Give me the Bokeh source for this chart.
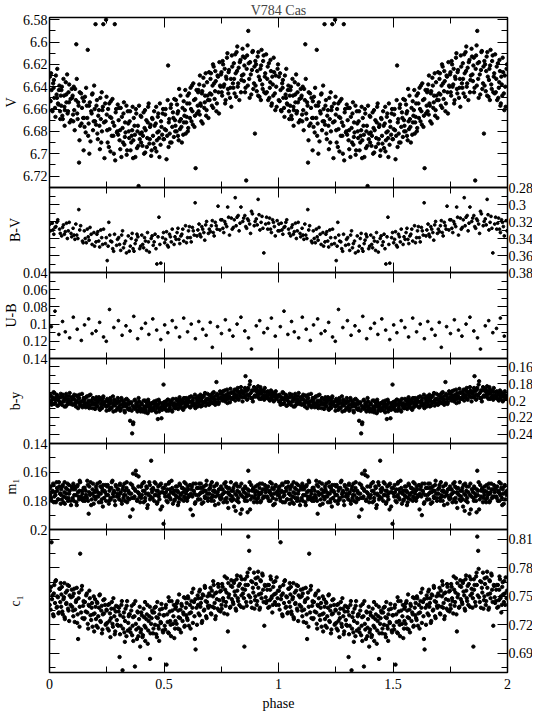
from bokeh.plotting import figure
from bokeh.layouts import column
from bokeh.models import Range1d, LinearAxis, FixedTicker
from bokeh.embed import file_html
from bokeh.resources import INLINE

# ---------------- data (phase-folded, one cycle; plotted twice) ----------------
# uvby observations, set 1
phase = [
    0.002, 0.005, 0.009, 0.013, 0.016, 0.021, 0.024, 0.028, 0.033, 0.037, 0.041, 0.046,
    0.051, 0.054, 0.058, 0.063, 0.067, 0.071, 0.074, 0.079, 0.083, 0.088, 0.092, 0.097,
    0.101, 0.104, 0.108, 0.112, 0.117, 0.121, 0.125, 0.129, 0.134, 0.138, 0.142, 0.147,
    0.151, 0.155, 0.158, 0.163, 0.167, 0.171, 0.176, 0.179, 0.184, 0.188, 0.193, 0.197,
    0.201, 0.205, 0.209, 0.213, 0.218, 0.222, 0.226, 0.231, 0.235, 0.238, 0.243, 0.247,
    0.252, 0.256, 0.259, 0.264, 0.268, 0.272, 0.277, 0.281, 0.285, 0.289, 0.294, 0.298,
    0.302, 0.306, 0.311, 0.314, 0.319, 0.323, 0.327, 0.332, 0.336, 0.339, 0.344, 0.348,
    0.352, 0.357, 0.361, 0.365, 0.368, 0.373, 0.377, 0.382, 0.386, 0.389, 0.394, 0.398,
    0.403, 0.406, 0.411, 0.415, 0.418, 0.423, 0.427, 0.431, 0.436, 0.439, 0.444, 0.448,
    0.452, 0.457, 0.461, 0.464, 0.469, 0.473, 0.477, 0.482, 0.485, 0.489, 0.494, 0.498,
    0.503, 0.507, 0.511, 0.514, 0.518, 0.523, 0.527, 0.531, 0.536, 0.539, 0.543, 0.548,
    0.552, 0.555, 0.559, 0.564, 0.568, 0.572, 0.576, 0.581, 0.584, 0.589, 0.593, 0.597,
    0.601, 0.606, 0.609, 0.613, 0.618, 0.622, 0.626, 0.631, 0.635, 0.638, 0.642, 0.647,
    0.651, 0.654, 0.659, 0.663, 0.667, 0.672, 0.676, 0.679, 0.684, 0.688, 0.692, 0.697,
    0.701, 0.705, 0.709, 0.712, 0.717, 0.721, 0.726, 0.729, 0.734, 0.738, 0.742, 0.747,
    0.751, 0.754, 0.758, 0.763, 0.767, 0.771, 0.775, 0.779, 0.784, 0.788, 0.792, 0.796,
    0.801, 0.805, 0.808, 0.813, 0.817, 0.822, 0.826, 0.829, 0.834, 0.838, 0.843, 0.847,
    0.851, 0.856, 0.859, 0.863, 0.868, 0.872, 0.876, 0.881, 0.884, 0.888, 0.893, 0.897,
    0.902, 0.905, 0.909, 0.914, 0.917, 0.921, 0.926, 0.929, 0.933, 0.938, 0.942, 0.946,
    0.951, 0.955, 0.958, 0.962, 0.967, 0.971, 0.975, 0.979, 0.984, 0.988, 0.992, 0.996,
]
v_mag = [
    6.631, 6.653, 6.643, 6.662, 6.637, 6.650, 6.659, 6.630, 6.650, 6.655, 6.643, 6.662,
    6.657, 6.640, 6.669, 6.648, 6.661, 6.636, 6.654, 6.664, 6.645, 6.672, 6.651, 6.642,
    6.648, 6.671, 6.661, 6.642, 6.602, 6.664, 6.654, 6.708, 6.675, 6.646, 6.659, 6.668,
    6.668, 6.649, 6.681, 6.657, 6.607, 6.673, 6.654, 6.689, 6.664, 6.646, 6.671, 6.660,
    6.584, 6.657, 6.682, 6.666, 6.675, 6.650, 6.690, 6.661, 6.584, 6.672, 6.655, 6.580,
    6.679, 6.660, 6.694, 6.667, 6.653, 6.684, 6.672, 6.700, 6.584, 6.663, 6.681, 6.656,
    6.670, 6.688, 6.659, 6.703, 6.677, 6.664, 6.692, 6.681, 6.657, 6.697, 6.673, 6.686,
    6.662, 6.690, 6.679, 6.704, 6.668, 6.683, 6.660, 6.695, 6.675, 6.729, 6.687, 6.666,
    6.681, 6.693, 6.663, 6.677, 6.699, 6.670, 6.686, 6.658, 6.691, 6.676, 6.702, 6.668,
    6.684, 6.662, 6.695, 6.673, 6.688, 6.667, 6.680, 6.655, 6.692, 6.676, 6.664, 6.687,
    6.678, 6.660, 6.705, 6.684, 6.621, 6.669, 6.690, 6.656, 6.676, 6.663, 6.685, 6.670,
    6.652, 6.680, 6.664, 6.688, 6.671, 6.648, 6.676, 6.659, 6.683, 6.666, 6.643, 6.672,
    6.655, 6.677, 6.646, 6.668, 6.660, 6.639, 6.674, 6.652, 6.666, 6.713, 6.643, 6.657,
    6.662, 6.638, 6.655, 6.671, 6.644, 6.632, 6.659, 6.648, 6.666, 6.636, 6.652, 6.627,
    6.646, 6.628, 6.657, 6.639, 6.622, 6.651, 6.635, 6.662, 6.630, 6.645, 6.618, 6.640,
    6.627, 6.648, 6.620, 6.638, 6.655, 6.631, 6.614, 6.642, 6.625, 6.650, 6.633, 6.612,
    6.637, 6.619, 6.646, 6.628, 6.609, 6.640, 6.623, 6.652, 6.616, 6.634, 6.606, 6.629,
    6.621, 6.641, 6.724, 6.612, 6.590, 6.633, 6.618, 6.647, 6.625, 6.608, 6.637, 6.682,
    6.620, 6.644, 6.613, 6.631, 6.649, 6.624, 6.607, 6.638, 6.617, 6.645, 6.628, 6.611,
    6.633, 6.652, 6.619, 6.641, 6.626, 6.655, 6.638, 6.614, 6.646, 6.630, 6.658, 6.624,
]
b_y = [
    0.201, 0.193, 0.205, 0.196, 0.198, 0.191, 0.203, 0.199, 0.194, 0.206, 0.197, 0.202,
    0.196, 0.205, 0.193, 0.201, 0.198, 0.207, 0.195, 0.202, 0.199, 0.191, 0.204, 0.197,
    0.205, 0.198, 0.193, 0.204, 0.201, 0.195, 0.209, 0.197, 0.202, 0.206, 0.192, 0.200,
    0.197, 0.203, 0.208, 0.195, 0.204, 0.200, 0.206, 0.193, 0.201, 0.209, 0.198, 0.205,
    0.203, 0.196, 0.206, 0.200, 0.210, 0.198, 0.208, 0.202, 0.195, 0.205, 0.201, 0.207,
    0.198, 0.206, 0.202, 0.210, 0.200, 0.208, 0.195, 0.205, 0.201, 0.212, 0.203, 0.197,
    0.208, 0.201, 0.210, 0.197, 0.205, 0.202, 0.212, 0.199, 0.207, 0.204, 0.200, 0.211,
    0.224, 0.202, 0.239, 0.228, 0.209, 0.199, 0.207, 0.203, 0.211, 0.197, 0.206, 0.213,
    0.204, 0.211, 0.200, 0.209, 0.214, 0.202, 0.207, 0.199, 0.212, 0.205, 0.210, 0.203,
    0.209, 0.201, 0.212, 0.204, 0.208, 0.222, 0.199, 0.210, 0.203, 0.221, 0.207, 0.181,
    0.208, 0.201, 0.212, 0.204, 0.199, 0.210, 0.205, 0.202, 0.213, 0.198, 0.207, 0.209,
    0.198, 0.205, 0.209, 0.201, 0.196, 0.207, 0.204, 0.199, 0.211, 0.202, 0.206, 0.197,
    0.205, 0.198, 0.201, 0.208, 0.195, 0.203, 0.200, 0.206, 0.193, 0.204, 0.197, 0.207,
    0.197, 0.204, 0.193, 0.200, 0.206, 0.195, 0.202, 0.191, 0.199, 0.203, 0.198, 0.205,
    0.200, 0.193, 0.203, 0.196, 0.190, 0.199, 0.202, 0.178, 0.194, 0.204, 0.197, 0.192,
    0.192, 0.199, 0.189, 0.196, 0.201, 0.193, 0.187, 0.198, 0.195, 0.202, 0.191, 0.197,
    0.198, 0.191, 0.187, 0.196, 0.193, 0.185, 0.199, 0.190, 0.195, 0.188, 0.201, 0.192,
    0.196, 0.171, 0.189, 0.199, 0.185, 0.193, 0.177, 0.197, 0.188, 0.201, 0.184, 0.194,
    0.195, 0.186, 0.193, 0.189, 0.198, 0.184, 0.191, 0.196, 0.188, 0.199, 0.190, 0.194,
    0.190, 0.197, 0.193, 0.200, 0.188, 0.196, 0.192, 0.201, 0.194, 0.189, 0.198, 0.195,
]
m_1 = [
    0.176, 0.170, 0.180, 0.173, 0.168, 0.177, 0.174, 0.181, 0.171, 0.179, 0.167, 0.175,
    0.172, 0.179, 0.169, 0.177, 0.182, 0.171, 0.175, 0.168, 0.178, 0.173, 0.180, 0.170,
    0.178, 0.168, 0.176, 0.172, 0.181, 0.170, 0.174, 0.179, 0.167, 0.177, 0.173, 0.180,
    0.171, 0.180, 0.173, 0.178, 0.169, 0.189, 0.176, 0.167, 0.179, 0.172, 0.182, 0.174,
    0.179, 0.172, 0.168, 0.177, 0.175, 0.170, 0.181, 0.173, 0.169, 0.178, 0.174, 0.180,
    0.170, 0.176, 0.182, 0.171, 0.179, 0.167, 0.175, 0.173, 0.180, 0.169, 0.177, 0.172,
    0.177, 0.169, 0.174, 0.180, 0.172, 0.178, 0.168, 0.176, 0.171, 0.181, 0.173, 0.179,
    0.191, 0.175, 0.169, 0.161, 0.178, 0.172, 0.159, 0.180, 0.174, 0.163, 0.177, 0.170,
    0.176, 0.168, 0.181, 0.173, 0.178, 0.170, 0.185, 0.175, 0.167, 0.179, 0.152, 0.174,
    0.171, 0.180, 0.176, 0.168, 0.182, 0.173, 0.177, 0.169, 0.186, 0.174, 0.171, 0.196,
    0.175, 0.169, 0.180, 0.172, 0.177, 0.167, 0.178, 0.174, 0.171, 0.182, 0.173, 0.179,
    0.170, 0.177, 0.173, 0.181, 0.168, 0.176, 0.179, 0.171, 0.174, 0.167, 0.178, 0.175,
    0.180, 0.172, 0.177, 0.169, 0.175, 0.170, 0.190, 0.173, 0.182, 0.168, 0.176, 0.171,
    0.176, 0.168, 0.179, 0.174, 0.171, 0.181, 0.173, 0.178, 0.169, 0.175, 0.180, 0.172,
    0.171, 0.178, 0.167, 0.176, 0.180, 0.173, 0.177, 0.169, 0.174, 0.182, 0.172, 0.179,
    0.178, 0.172, 0.175, 0.168, 0.179, 0.170, 0.181, 0.174, 0.171, 0.176, 0.167, 0.180,
    0.173, 0.179, 0.169, 0.187, 0.176, 0.170, 0.181, 0.174, 0.189, 0.168, 0.177, 0.172,
    0.178, 0.171, 0.175, 0.180, 0.159, 0.173, 0.186, 0.169, 0.177, 0.172, 0.181, 0.174,
    0.173, 0.179, 0.169, 0.176, 0.171, 0.181, 0.174, 0.168, 0.178, 0.172, 0.177, 0.170,
    0.177, 0.170, 0.180, 0.173, 0.175, 0.168, 0.178, 0.172, 0.182, 0.169, 0.174, 0.176,
]
c_1 = [
    0.756, 0.736, 0.807, 0.751, 0.731, 0.762, 0.743, 0.767, 0.739, 0.749, 0.733, 0.758,
    0.739, 0.760, 0.731, 0.749, 0.726, 0.754, 0.743, 0.762, 0.735, 0.751, 0.741, 0.757,
    0.750, 0.729, 0.758, 0.736, 0.746, 0.722, 0.705, 0.754, 0.795, 0.733, 0.761, 0.740,
    0.726, 0.744, 0.734, 0.753, 0.721, 0.741, 0.748, 0.730, 0.738, 0.718, 0.750, 0.732,
    0.739, 0.719, 0.743, 0.729, 0.751, 0.724, 0.735, 0.715, 0.746, 0.732, 0.741, 0.721,
    0.722, 0.741, 0.714, 0.732, 0.727, 0.744, 0.718, 0.737, 0.710, 0.734, 0.725, 0.739,
    0.734, 0.686, 0.719, 0.741, 0.672, 0.728, 0.712, 0.737, 0.708, 0.745, 0.722, 0.731,
    0.716, 0.735, 0.709, 0.728, 0.742, 0.676, 0.721, 0.705, 0.733, 0.717, 0.739, 0.712,
    0.730, 0.707, 0.737, 0.719, 0.703, 0.726, 0.741, 0.714, 0.729, 0.684, 0.721, 0.735,
    0.711, 0.733, 0.720, 0.739, 0.707, 0.727, 0.716, 0.736, 0.723, 0.742, 0.714, 0.730,
    0.719, 0.738, 0.678, 0.731, 0.712, 0.745, 0.724, 0.708, 0.735, 0.721, 0.741, 0.716,
    0.739, 0.721, 0.745, 0.728, 0.715, 0.736, 0.742, 0.724, 0.733, 0.718, 0.748, 0.730,
    0.727, 0.748, 0.719, 0.741, 0.733, 0.754, 0.722, 0.744, 0.705, 0.694, 0.738, 0.751,
    0.732, 0.755, 0.739, 0.748, 0.724, 0.751, 0.736, 0.759, 0.729, 0.744, 0.740, 0.753,
    0.751, 0.732, 0.756, 0.739, 0.762, 0.743, 0.729, 0.754, 0.737, 0.760, 0.746, 0.734,
    0.741, 0.763, 0.748, 0.732, 0.757, 0.744, 0.769, 0.713, 0.752, 0.738, 0.761, 0.747,
    0.744, 0.764, 0.755, 0.737, 0.768, 0.748, 0.761, 0.741, 0.771, 0.751, 0.758, 0.738,
    0.697, 0.762, 0.744, 0.771, 0.813, 0.798, 0.749, 0.766, 0.738, 0.759, 0.775, 0.746,
    0.763, 0.741, 0.770, 0.752, 0.736, 0.767, 0.748, 0.774, 0.757, 0.719, 0.761, 0.743,
    0.757, 0.738, 0.762, 0.746, 0.768, 0.750, 0.741, 0.765, 0.744, 0.753, 0.770, 0.748,
]
# uvby observations, set 2
phase_2 = [
    0.001, 0.007, 0.011, 0.018, 0.019, 0.026, 0.031, 0.034, 0.039, 0.043, 0.047, 0.049,
    0.052, 0.056, 0.061, 0.065, 0.066, 0.073, 0.077, 0.081, 0.085, 0.086, 0.094, 0.099,
    0.103, 0.106, 0.110, 0.115, 0.119, 0.123, 0.127, 0.131, 0.132, 0.140, 0.144, 0.149,
    0.150, 0.153, 0.160, 0.165, 0.169, 0.173, 0.174, 0.182, 0.186, 0.190, 0.195, 0.199,
    0.203, 0.207, 0.211, 0.216, 0.220, 0.224, 0.228, 0.229, 0.233, 0.240, 0.245, 0.249,
    0.250, 0.254, 0.261, 0.262, 0.266, 0.270, 0.275, 0.279, 0.283, 0.287, 0.291, 0.296,
    0.300, 0.304, 0.308, 0.309, 0.316, 0.321, 0.325, 0.329, 0.330, 0.337, 0.342, 0.346,
    0.350, 0.354, 0.359, 0.363, 0.366, 0.371, 0.375, 0.379, 0.384, 0.388, 0.391, 0.396,
    0.400, 0.401, 0.408, 0.413, 0.417, 0.420, 0.425, 0.429, 0.433, 0.438, 0.441, 0.446,
    0.450, 0.454, 0.459, 0.466, 0.467, 0.471, 0.475, 0.479, 0.480, 0.487, 0.492, 0.496,
    0.500, 0.505, 0.509, 0.516, 0.520, 0.521, 0.525, 0.529, 0.533, 0.541, 0.545, 0.549,
    0.550, 0.557, 0.561, 0.562, 0.566, 0.570, 0.574, 0.578, 0.586, 0.587, 0.591, 0.595,
    0.599, 0.603, 0.604, 0.611, 0.616, 0.620, 0.624, 0.628, 0.633, 0.637, 0.644, 0.649,
    0.650, 0.656, 0.657, 0.661, 0.665, 0.669, 0.674, 0.678, 0.682, 0.686, 0.690, 0.694,
    0.699, 0.703, 0.707, 0.714, 0.715, 0.719, 0.723, 0.724, 0.731, 0.736, 0.740, 0.745,
    0.749, 0.752, 0.756, 0.760, 0.765, 0.769, 0.773, 0.777, 0.781, 0.782, 0.790, 0.794,
    0.798, 0.803, 0.806, 0.811, 0.815, 0.819, 0.820, 0.824, 0.831, 0.836, 0.840, 0.845,
    0.849, 0.853, 0.854, 0.861, 0.865, 0.866, 0.870, 0.874, 0.879, 0.886, 0.890, 0.895,
    0.899, 0.900, 0.907, 0.911, 0.912, 0.919, 0.923, 0.924, 0.931, 0.935, 0.940, 0.944,
    0.949, 0.953, 0.960, 0.964, 0.965, 0.969, 0.973, 0.977, 0.981, 0.986, 0.990, 0.998,
]
v_mag_2 = [
    6.652, 6.628, 6.661, 6.641, 6.634, 6.667, 6.647, 6.624, 6.656, 6.639, 6.669, 6.648,
    6.643, 6.666, 6.633, 6.658, 6.675, 6.647, 6.629, 6.662, 6.654, 6.638, 6.670, 6.650,
    6.665, 6.640, 6.679, 6.652, 6.633, 6.669, 6.657, 6.688, 6.645, 6.673, 6.650, 6.697,
    6.653, 6.676, 6.641, 6.668, 6.684, 6.657, 6.700, 6.662, 6.647, 6.679, 6.639, 6.671,
    6.674, 6.652, 6.687, 6.661, 6.696, 6.669, 6.645, 6.680, 6.658, 6.704, 6.671, 6.649,
    6.665, 6.690, 6.655, 6.678, 6.698, 6.668, 6.651, 6.684, 6.675, 6.706, 6.660, 6.680,
    6.683, 6.659, 6.679, 6.696, 6.667, 6.690, 6.654, 6.685, 6.672, 6.701, 6.662, 6.680,
    6.671, 6.697, 6.684, 6.658, 6.688, 6.675, 6.703, 6.664, 6.680, 6.693, 6.657, 6.682,
    6.690, 6.667, 6.684, 6.700, 6.661, 6.679, 6.694, 6.672, 6.655, 6.687, 6.674, 6.697,
    6.669, 6.691, 6.675, 6.658, 6.698, 6.681, 6.664, 6.686, 6.703, 6.671, 6.683, 6.660,
    6.687, 6.665, 6.679, 6.652, 6.694, 6.672, 6.682, 6.659, 6.690, 6.668, 6.651, 6.680,
    6.675, 6.656, 6.684, 6.662, 6.642, 6.678, 6.669, 6.690, 6.653, 6.672, 6.661, 6.682,
    6.667, 6.648, 6.680, 6.655, 6.641, 6.671, 6.662, 6.637, 6.676, 6.651, 6.664, 6.645,
    6.643, 6.665, 6.630, 6.657, 6.646, 6.673, 6.639, 6.654, 6.628, 6.661, 6.648, 6.668,
    6.652, 6.633, 6.647, 6.620, 6.659, 6.637, 6.644, 6.626, 6.655, 6.631, 6.664, 6.639,
    6.629, 6.645, 6.617, 6.640, 6.624, 6.652, 6.633, 6.610, 6.646, 6.627, 6.641, 6.658,
    6.622, 6.641, 6.633, 6.611, 6.649, 6.626, 6.604, 6.637, 6.618, 6.645, 6.630, 6.613,
    6.635, 6.614, 6.645, 6.624, 6.603, 6.639, 6.619, 6.650, 6.629, 6.609, 6.642, 6.622,
    6.617, 6.639, 6.626, 6.648, 6.609, 6.634, 6.652, 6.621, 6.642, 6.612, 6.631, 6.646,
    6.645, 6.622, 6.650, 6.636, 6.616, 6.657, 6.631, 6.648, 6.627, 6.661, 6.640, 6.620,
]
b_y_2 = [
    0.195, 0.202, 0.199, 0.190, 0.204, 0.197, 0.193, 0.206, 0.200, 0.196, 0.203, 0.192,
    0.203, 0.194, 0.200, 0.207, 0.197, 0.192, 0.205, 0.199, 0.195, 0.203, 0.201, 0.196,
    0.196, 0.204, 0.199, 0.207, 0.194, 0.202, 0.198, 0.193, 0.205, 0.201, 0.208, 0.197,
    0.205, 0.199, 0.196, 0.207, 0.202, 0.194, 0.209, 0.200, 0.204, 0.197, 0.203, 0.210,
    0.199, 0.207, 0.202, 0.196, 0.211, 0.204, 0.200, 0.209, 0.197, 0.203, 0.206, 0.212,
    0.207, 0.200, 0.211, 0.204, 0.197, 0.209, 0.203, 0.213, 0.199, 0.206, 0.201, 0.210,
    0.201, 0.209, 0.205, 0.212, 0.199, 0.207, 0.203, 0.214, 0.206, 0.198, 0.210, 0.204,
    0.209, 0.203, 0.212, 0.206, 0.226, 0.200, 0.210, 0.204, 0.213, 0.207, 0.201, 0.209,
    0.210, 0.203, 0.213, 0.207, 0.200, 0.211, 0.205, 0.215, 0.202, 0.209, 0.206, 0.212,
    0.203, 0.211, 0.206, 0.214, 0.200, 0.209, 0.205, 0.213, 0.202, 0.208, 0.211, 0.204,
    0.202, 0.210, 0.206, 0.199, 0.212, 0.204, 0.208, 0.200, 0.211, 0.205, 0.203, 0.209,
    0.207, 0.200, 0.204, 0.210, 0.198, 0.206, 0.201, 0.209, 0.203, 0.197, 0.208, 0.202,
    0.199, 0.206, 0.203, 0.196, 0.208, 0.201, 0.205, 0.197, 0.204, 0.209, 0.200, 0.195,
    0.202, 0.195, 0.200, 0.207, 0.197, 0.203, 0.194, 0.201, 0.206, 0.198, 0.192, 0.204,
    0.194, 0.201, 0.197, 0.191, 0.203, 0.199, 0.195, 0.205, 0.192, 0.198, 0.202, 0.189,
    0.197, 0.190, 0.200, 0.194, 0.188, 0.199, 0.196, 0.203, 0.191, 0.195, 0.186, 0.198,
    0.190, 0.197, 0.194, 0.200, 0.187, 0.195, 0.189, 0.198, 0.192, 0.184, 0.196, 0.191,
    0.189, 0.196, 0.185, 0.193, 0.198, 0.187, 0.194, 0.181, 0.191, 0.197, 0.188, 0.195,
    0.188, 0.195, 0.190, 0.183, 0.196, 0.192, 0.187, 0.198, 0.189, 0.194, 0.185, 0.197,
    0.196, 0.189, 0.199, 0.193, 0.191, 0.198, 0.190, 0.195, 0.200, 0.192, 0.197, 0.194,
]
m_1_2 = [
    0.171, 0.178, 0.174, 0.169, 0.181, 0.176, 0.167, 0.173, 0.179, 0.170, 0.175, 0.182,
    0.176, 0.170, 0.181, 0.174, 0.167, 0.178, 0.172, 0.180, 0.169, 0.175, 0.183, 0.171,
    0.172, 0.180, 0.170, 0.176, 0.183, 0.169, 0.177, 0.173, 0.166, 0.179, 0.175, 0.171,
    0.178, 0.171, 0.176, 0.166, 0.180, 0.174, 0.170, 0.183, 0.175, 0.168, 0.177, 0.173,
    0.170, 0.177, 0.174, 0.181, 0.167, 0.175, 0.179, 0.171, 0.184, 0.173, 0.169, 0.176,
    0.176, 0.169, 0.180, 0.173, 0.178, 0.171, 0.166, 0.177, 0.174, 0.183, 0.170, 0.175,
    0.172, 0.179, 0.168, 0.175, 0.182, 0.170, 0.176, 0.173, 0.180, 0.167, 0.178, 0.174,
    0.175, 0.168, 0.178, 0.186, 0.171, 0.177, 0.173, 0.162, 0.179, 0.170, 0.175, 0.181,
    0.170, 0.178, 0.173, 0.167, 0.180, 0.175, 0.171, 0.183, 0.176, 0.169, 0.177, 0.172,
    0.178, 0.172, 0.167, 0.176, 0.173, 0.181, 0.170, 0.175, 0.179, 0.168, 0.184, 0.174,
    0.171, 0.177, 0.174, 0.181, 0.168, 0.176, 0.172, 0.179, 0.166, 0.175, 0.180, 0.173,
    0.176, 0.170, 0.183, 0.174, 0.178, 0.169, 0.175, 0.171, 0.180, 0.177, 0.172, 0.168,
    0.173, 0.178, 0.170, 0.176, 0.186, 0.172, 0.177, 0.168, 0.175, 0.181, 0.171, 0.179,
    0.179, 0.171, 0.175, 0.168, 0.182, 0.174, 0.170, 0.177, 0.173, 0.166, 0.178, 0.175,
    0.175, 0.169, 0.180, 0.173, 0.177, 0.170, 0.183, 0.174, 0.168, 0.176, 0.172, 0.178,
    0.170, 0.176, 0.172, 0.181, 0.174, 0.167, 0.178, 0.171, 0.185, 0.175, 0.179, 0.173,
    0.177, 0.171, 0.184, 0.175, 0.168, 0.180, 0.173, 0.178, 0.170, 0.176, 0.186, 0.172,
    0.174, 0.180, 0.170, 0.177, 0.188, 0.172, 0.176, 0.167, 0.179, 0.173, 0.171, 0.178,
    0.176, 0.170, 0.181, 0.174, 0.178, 0.168, 0.175, 0.180, 0.172, 0.177, 0.169, 0.174,
    0.172, 0.178, 0.174, 0.167, 0.180, 0.176, 0.171, 0.183, 0.175, 0.170, 0.179, 0.173,
]
c_1_2 = [
    0.741, 0.760, 0.747, 0.729, 0.753, 0.766, 0.738, 0.750, 0.732, 0.758, 0.744, 0.764,
    0.752, 0.734, 0.747, 0.764, 0.728, 0.742, 0.756, 0.737, 0.761, 0.724, 0.749, 0.739,
    0.735, 0.753, 0.723, 0.744, 0.759, 0.731, 0.748, 0.718, 0.739, 0.757, 0.727, 0.745,
    0.744, 0.727, 0.751, 0.733, 0.716, 0.740, 0.756, 0.725, 0.743, 0.731, 0.713, 0.747,
    0.726, 0.744, 0.717, 0.738, 0.752, 0.723, 0.740, 0.711, 0.731, 0.747, 0.720, 0.736,
    0.735, 0.716, 0.742, 0.724, 0.707, 0.737, 0.721, 0.748, 0.729, 0.713, 0.740, 0.720,
    0.719, 0.738, 0.710, 0.730, 0.745, 0.716, 0.733, 0.702, 0.724, 0.740, 0.714, 0.729,
    0.731, 0.712, 0.740, 0.719, 0.703, 0.729, 0.745, 0.715, 0.734, 0.708, 0.726, 0.697,
    0.715, 0.733, 0.709, 0.728, 0.744, 0.717, 0.731, 0.700, 0.724, 0.739, 0.711, 0.727,
    0.733, 0.716, 0.738, 0.710, 0.728, 0.744, 0.719, 0.703, 0.731, 0.722, 0.737, 0.712,
    0.730, 0.715, 0.741, 0.723, 0.749, 0.711, 0.734, 0.720, 0.745, 0.729, 0.706, 0.737,
    0.724, 0.743, 0.716, 0.735, 0.752, 0.727, 0.712, 0.740, 0.731, 0.749, 0.719, 0.738,
    0.743, 0.725, 0.750, 0.732, 0.716, 0.745, 0.738, 0.758, 0.729, 0.747, 0.720, 0.741,
    0.748, 0.730, 0.757, 0.743, 0.722, 0.752, 0.735, 0.761, 0.745, 0.727, 0.750, 0.738,
    0.740, 0.759, 0.731, 0.750, 0.766, 0.738, 0.753, 0.726, 0.747, 0.763, 0.735, 0.755,
    0.756, 0.737, 0.760, 0.745, 0.771, 0.740, 0.754, 0.731, 0.764, 0.749, 0.739, 0.767,
    0.760, 0.742, 0.766, 0.751, 0.735, 0.772, 0.756, 0.745, 0.763, 0.739, 0.768, 0.753,
    0.748, 0.768, 0.757, 0.740, 0.775, 0.762, 0.751, 0.779, 0.744, 0.765, 0.754, 0.737,
    0.750, 0.769, 0.745, 0.776, 0.759, 0.738, 0.766, 0.753, 0.772, 0.744, 0.762, 0.749,
    0.745, 0.762, 0.739, 0.757, 0.771, 0.748, 0.733, 0.760, 0.752, 0.766, 0.741, 0.756,
]
# UBV observations
bv_phase = [
    0.004, 0.012, 0.019, 0.028, 0.036, 0.044, 0.053, 0.061, 0.069, 0.078, 0.086, 0.094,
    0.103, 0.111, 0.119, 0.128, 0.136, 0.144, 0.152, 0.161, 0.169, 0.177, 0.186, 0.194,
    0.203, 0.211, 0.219, 0.228, 0.236, 0.244, 0.252, 0.259, 0.267, 0.276, 0.284, 0.293,
    0.302, 0.311, 0.319, 0.327, 0.336, 0.344, 0.353, 0.361, 0.369, 0.378, 0.386, 0.394,
    0.403, 0.411, 0.419, 0.428, 0.436, 0.444, 0.453, 0.461, 0.469, 0.478, 0.486, 0.494,
    0.503, 0.511, 0.519, 0.528, 0.536, 0.544, 0.553, 0.561, 0.569, 0.578, 0.586, 0.594,
    0.603, 0.611, 0.619, 0.628, 0.636, 0.644, 0.653, 0.661, 0.669, 0.678, 0.686, 0.694,
    0.703, 0.711, 0.719, 0.728, 0.736, 0.744, 0.753, 0.761, 0.769, 0.778, 0.786, 0.794,
    0.803, 0.811, 0.819, 0.828, 0.836, 0.844, 0.853, 0.861, 0.869, 0.878, 0.886, 0.894,
    0.903, 0.911, 0.919, 0.928, 0.936, 0.944, 0.953, 0.961, 0.969, 0.978, 0.986, 0.994,
    0.002, 0.015, 0.024, 0.032, 0.047, 0.057, 0.065, 0.074, 0.082, 0.097,
    0.107, 0.115, 0.124, 0.132, 0.147, 0.156, 0.165, 0.173, 0.182, 0.197,
    0.207, 0.215, 0.224, 0.232, 0.248, 0.256, 0.263, 0.272, 0.280, 0.297,
    0.306, 0.315, 0.323, 0.332, 0.348, 0.357, 0.365, 0.374, 0.382, 0.398,
    0.407, 0.415, 0.424, 0.432, 0.448, 0.457, 0.465, 0.474, 0.482, 0.498,
    0.507, 0.515, 0.524, 0.532, 0.548, 0.557, 0.565, 0.574, 0.582, 0.598,
    0.607, 0.615, 0.624, 0.632, 0.648, 0.657, 0.665, 0.674, 0.682, 0.698,
    0.707, 0.715, 0.724, 0.732, 0.748, 0.757, 0.765, 0.774, 0.782, 0.798,
    0.807, 0.815, 0.824, 0.832, 0.848, 0.857, 0.865, 0.874, 0.882, 0.898,
    0.907, 0.915, 0.924, 0.932, 0.948, 0.957, 0.965, 0.974, 0.982, 0.998,
]
b_v = [
    0.331, 0.322, 0.335, 0.326, 0.318, 0.329, 0.337, 0.324, 0.332, 0.340, 0.321, 0.334,
    0.328, 0.341, 0.336, 0.306, 0.325, 0.343, 0.331, 0.345, 0.338, 0.327, 0.347, 0.333,
    0.344, 0.332, 0.350, 0.339, 0.329, 0.346, 0.366, 0.321, 0.343, 0.352, 0.335, 0.348,
    0.339, 0.354, 0.331, 0.346, 0.357, 0.337, 0.349, 0.334, 0.355, 0.342, 0.338, 0.352,
    0.336, 0.351, 0.343, 0.333, 0.356, 0.340, 0.348, 0.335, 0.370, 0.315, 0.369, 0.339,
    0.345, 0.332, 0.350, 0.338, 0.329, 0.347, 0.341, 0.328, 0.346, 0.335, 0.343, 0.325,
    0.339, 0.326, 0.344, 0.331, 0.298, 0.337, 0.323, 0.338, 0.329, 0.342, 0.320, 0.334,
    0.332, 0.319, 0.337, 0.325, 0.302, 0.330, 0.318, 0.333, 0.323, 0.303, 0.336, 0.316,
    0.327, 0.292, 0.315, 0.331, 0.303, 0.320, 0.313, 0.328, 0.319, 0.334, 0.311, 0.325,
    0.317, 0.294, 0.330, 0.314, 0.357, 0.323, 0.329, 0.316, 0.333, 0.321, 0.337, 0.319,
    0.323, 0.330, 0.327, 0.321, 0.334, 0.327, 0.335, 0.322, 0.331, 0.338,
    0.336, 0.323, 0.340, 0.330, 0.345, 0.340, 0.329, 0.342, 0.335, 0.349,
    0.335, 0.343, 0.330, 0.347, 0.339, 0.349, 0.336, 0.344, 0.355, 0.341,
    0.347, 0.336, 0.351, 0.343, 0.355, 0.340, 0.352, 0.346, 0.335, 0.349,
    0.347, 0.339, 0.354, 0.344, 0.337, 0.344, 0.352, 0.338, 0.347, 0.333,
    0.341, 0.348, 0.335, 0.344, 0.338, 0.333, 0.341, 0.337, 0.329, 0.345,
    0.331, 0.339, 0.327, 0.336, 0.330, 0.335, 0.326, 0.333, 0.324, 0.329,
    0.325, 0.333, 0.321, 0.329, 0.318, 0.328, 0.320, 0.326, 0.315, 0.329,
    0.318, 0.325, 0.313, 0.322, 0.316, 0.326, 0.317, 0.323, 0.308, 0.320,
    0.324, 0.312, 0.321, 0.328, 0.315, 0.322, 0.329, 0.318, 0.326, 0.331,
]
ub_phase = [
    0.008, 0.024, 0.041, 0.057, 0.069, 0.088, 0.104, 0.121, 0.139, 0.153, 0.171, 0.186,
    0.203, 0.219, 0.236, 0.248, 0.262, 0.281, 0.301, 0.317, 0.334, 0.352, 0.368, 0.385,
    0.402, 0.419, 0.434, 0.451, 0.468, 0.486, 0.503, 0.517, 0.536, 0.552, 0.568, 0.586,
    0.603, 0.619, 0.637, 0.652, 0.669, 0.684, 0.702, 0.711, 0.734, 0.751, 0.768, 0.786,
    0.801, 0.819, 0.836, 0.853, 0.869, 0.882, 0.903, 0.918, 0.936, 0.952, 0.969, 0.986,
]
u_b = [
    0.103, 0.085, 0.112, 0.097, 0.109, 0.116, 0.092, 0.106, 0.119, 0.101, 0.094, 0.111,
    0.108, 0.098, 0.115, 0.120, 0.083, 0.104, 0.096, 0.113, 0.102, 0.108, 0.091, 0.117,
    0.105, 0.099, 0.112, 0.094, 0.107, 0.118, 0.101, 0.110, 0.096, 0.104, 0.115, 0.093,
    0.109, 0.100, 0.117, 0.097, 0.106, 0.113, 0.098, 0.127, 0.103, 0.111, 0.095, 0.107,
    0.114, 0.100, 0.092, 0.108, 0.116, 0.129, 0.102, 0.096, 0.110, 0.105, 0.093, 0.114,
]

# ---------------- ticks ----------------
x_ticks = [0, 0.5, 1, 1.5, 2]
x_minor = [0.25, 0.75, 1.25, 1.75]
x_labels = ["0", "0.5", "1", "1.5", "2"]

v_ticks = [6.58, 6.6, 6.62, 6.64, 6.66, 6.68, 6.7, 6.72]
v_minor = [6.59, 6.61, 6.63, 6.65, 6.67, 6.69, 6.71]
v_labels = ["6.58", "6.6", "6.62", "6.64", "6.66", "6.68", "6.7", "6.72"]

bv_ticks = [0.28, 0.3, 0.32, 0.34, 0.36, 0.38]
bv_minor = [0.29, 0.31, 0.33, 0.35, 0.37]
bv_labels = ["0.28", "0.3", "0.32", "0.34", "0.36", "0.38"]

ub_ticks = [0.04, 0.06, 0.08, 0.1, 0.12, 0.14]
ub_minor = [0.05, 0.07, 0.09, 0.11, 0.13]
ub_labels = ["0.04", "0.06", "0.08", "0.1", "0.12", "0.14"]

by_ticks = [0.16, 0.18, 0.2, 0.22, 0.24]
by_minor = [0.17, 0.19, 0.21, 0.23]
by_labels = ["0.16", "0.18", "0.2", "0.22", "0.24"]

m1_ticks = [0.14, 0.16, 0.18, 0.2]
m1_minor = [0.15, 0.17, 0.19]
m1_labels = ["0.14", "0.16", "0.18", "0.2"]

c1_ticks = [0.69, 0.72, 0.75, 0.78, 0.81]
c1_minor = [0.675, 0.705, 0.735, 0.765, 0.795]
c1_labels = ["0.69", "0.72", "0.75", "0.78", "0.81"]

# ---------------- layout / style ----------------
SERIF = "Liberation Serif"
TICK_FS = "14px"
LABEL_FS = "14px"
FW = 458
LB, RB = 45, 26
OV = 12  # border above/below inner panels (overlapped by neighbours)

x_range = Range1d(0, 2)


def two_cycles(ph, vals):
    return list(ph) + [p + 1 for p in ph], list(vals) + list(vals)


def make_panel(frame_h, y0, y1, top=OV, bottom=OV, margin=None, title=None):
    kw = dict(frame_width=FW, frame_height=frame_h, x_range=x_range,
              y_range=Range1d(y0, y1), output_backend="svg",
              toolbar_location=None, x_axis_location=None, y_axis_location=None,
              min_border_left=LB, min_border_right=RB,
              min_border_top=top, min_border_bottom=bottom)
    if margin is not None:
        kw["margin"] = margin
    if title is not None:
        kw["title"] = title
    p = figure(**kw)
    p.background_fill_color = None
    p.border_fill_color = None
    p.outline_line_color = "black"
    p.outline_line_width = 1.5
    p.xgrid.visible = False
    p.ygrid.visible = False
    return p


def style_axis(ax, ticks, minor, labels=None, standoff=2):
    ax.ticker = FixedTicker(ticks=ticks, minor_ticks=minor)
    ax.axis_line_color = None
    ax.major_tick_in = 10
    ax.major_tick_out = 0
    ax.minor_tick_in = 6
    ax.minor_tick_out = 0
    ax.major_tick_line_color = "black"
    ax.minor_tick_line_color = "black"
    ax.major_tick_line_width = 1
    ax.minor_tick_line_width = 1
    ax.major_label_text_font = SERIF
    ax.major_label_text_color = "black"
    ax.axis_label_text_font = SERIF
    ax.axis_label_text_font_style = "normal"
    ax.axis_label_text_font_size = LABEL_FS
    ax.axis_label_text_color = "black"
    if labels is None:
        ax.major_label_overrides = {t: "" for t in ticks}
        ax.major_label_text_font_size = "0px"
        ax.major_label_standoff = 0
    else:
        ax.major_label_overrides = dict(zip(ticks, labels))
        ax.major_label_text_font_size = TICK_FS
        ax.major_label_standoff = standoff
    return ax


def decorate(p, name, yt, ym, yl, labels_left, bottom_labels=False):
    p.add_layout(style_axis(LinearAxis(), x_ticks, x_minor), "above")
    if bottom_labels:
        bot_ax = style_axis(LinearAxis(), x_ticks, x_minor, x_labels, standoff=6)
        bot_ax.axis_label = "phase"
        bot_ax.axis_label_standoff = 4
    else:
        bot_ax = style_axis(LinearAxis(), x_ticks, x_minor)
    p.add_layout(bot_ax, "below")
    if labels_left:
        left = style_axis(LinearAxis(), yt, ym, yl, standoff=2)
        left.axis_label_standoff = 1
        right = style_axis(LinearAxis(), yt, ym)
    else:
        left = style_axis(LinearAxis(), yt, ym)
        left.axis_label_standoff = 27
        right = style_axis(LinearAxis(), yt, ym, yl, standoff=1)
    left.axis_label = name
    p.add_layout(left, "left")
    p.add_layout(right, "right")


def dots(p, ph, vals, size):
    xs, ys = two_cycles(ph, vals)
    p.scatter(xs, ys, size=size, marker="circle", color="black")


# V
p_v = make_panel(170, 6.7303, 6.578, top=15, title="V784 Cas")
p_v.title.align = "center"
p_v.title.text_font = SERIF
p_v.title.text_font_style = "normal"
p_v.title.text_font_size = "14px"
p_v.title.standoff = 0
decorate(p_v, "V", v_ticks, v_minor, v_labels, labels_left=True)
dots(p_v, phase + phase_2, v_mag + v_mag_2, 3.4)

# B-V
p_bv = make_panel(85, 0.38, 0.28, margin=(-2 * OV, 0, 0, 0))
decorate(p_bv, "B-V", bv_ticks, bv_minor, bv_labels, labels_left=False)
dots(p_bv, bv_phase, b_v, 2.8)

# U-B
p_ub = make_panel(86, 0.14, 0.04, margin=(-2 * OV, 0, 0, 0))
decorate(p_ub, "U-B", ub_ticks, ub_minor, ub_labels, labels_left=True)
dots(p_ub, ub_phase, u_b, 2.8)

# b-y
p_by = make_panel(85, 0.251, 0.15, margin=(-2 * OV, 0, 0, 0))
decorate(p_by, "b-y", by_ticks, by_minor, by_labels, labels_left=False)
dots(p_by, phase + phase_2, b_y + b_y_2, 3.4)

# m1
p_m1 = make_panel(86, 0.2, 0.14, margin=(-2 * OV, 0, 0, 0))
decorate(p_m1, "m\u2081", m1_ticks, m1_minor, m1_labels, labels_left=True)
dots(p_m1, phase + phase_2, m_1 + m_1_2, 3.4)

# c1
p_c1 = make_panel(143, 0.6697, 0.8205, bottom=32, margin=(-2 * OV, 0, 0, 0))
decorate(p_c1, "c\u2081", c1_ticks, c1_minor, c1_labels, labels_left=False,
         bottom_labels=True)
dots(p_c1, phase + phase_2, c_1 + c_1_2, 3.4)

layout = column(p_v, p_bv, p_ub, p_by, p_m1, p_c1, spacing=0)

open("out.html", "w").write(file_html(layout, INLINE))
